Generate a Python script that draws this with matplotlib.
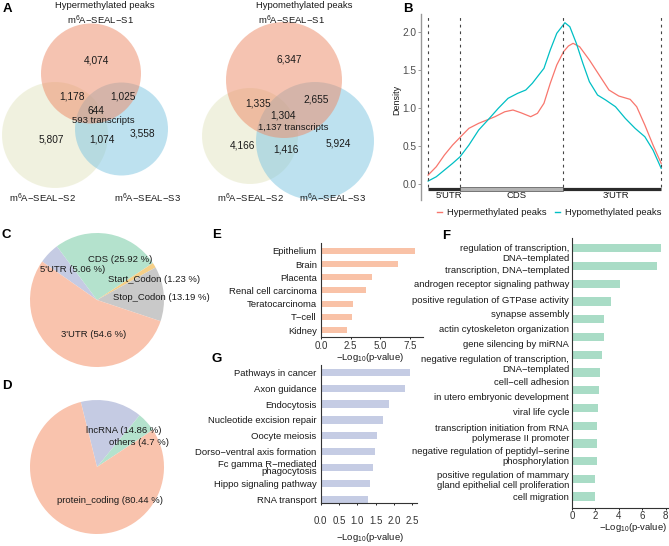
import matplotlib
matplotlib.use("Agg")
import matplotlib.pyplot as plt
from matplotlib.patches import Circle, Rectangle
from matplotlib.lines import Line2D

plt.rcParams["font.family"] = ["Liberation Sans", "DejaVu Sans"]
plt.rcParams["mathtext.fontset"] = "custom"
plt.rcParams["mathtext.rm"] = "Liberation Sans"
plt.rcParams["mathtext.it"] = "Liberation Sans:italic"
plt.rcParams["mathtext.bf"] = "Liberation Sans:bold"

M = "\u2212"

# --------------------------------------------------------------------
# Data
# --------------------------------------------------------------------
# A: venn counts, order = S1 only, S1&S2, S1&S3, all three, S2 only, S2&S3, S3 only
set_names = ["m$^6$A" + M + "SEAL" + M + "S1",
             "m$^6$A" + M + "SEAL" + M + "S2",
             "m$^6$A" + M + "SEAL" + M + "S3"]
hyper_counts = [4074, 1178, 1025, 644, 5807, 1074, 3558]
hyper_transcripts = 593
hypo_counts = [6347, 1335, 2655, 1304, 4166, 1416, 5924]
hypo_transcripts = 1137

# B: metagene density (relative position along transcript 0..1)
hyper_x = [0.000, 0.035, 0.070, 0.105, 0.137, 0.175, 0.217, 0.259, 0.287, 0.329,
           0.364, 0.398, 0.440, 0.469, 0.497, 0.524, 0.552, 0.581, 0.602, 0.622,
           0.650, 0.692, 0.734, 0.776, 0.818, 0.867, 0.895, 0.930, 0.965, 1.000]
hyper_y = [0.118, 0.228, 0.382, 0.513, 0.614, 0.733, 0.799, 0.851, 0.886, 0.951,
           0.974, 0.938, 0.886, 0.930, 1.062, 1.325, 1.566, 1.741, 1.816, 1.851,
           1.807, 1.632, 1.434, 1.237, 1.158, 1.114, 1.017, 0.776, 0.513, 0.272]
hypo_x = [0.000, 0.035, 0.070, 0.105, 0.137, 0.175, 0.217, 0.259, 0.301, 0.343,
          0.384, 0.419, 0.447, 0.469, 0.497, 0.524, 0.552, 0.587, 0.608, 0.636,
          0.664, 0.692, 0.727, 0.762, 0.804, 0.846, 0.888, 0.930, 0.965, 1.000]
hypo_y = [0.039, 0.096, 0.184, 0.272, 0.359, 0.513, 0.711, 0.851, 0.996, 1.128,
          1.193, 1.237, 1.325, 1.412, 1.522, 1.763, 1.983, 2.122, 2.070, 1.851,
          1.588, 1.346, 1.171, 1.105, 1.017, 0.864, 0.733, 0.622, 0.447, 0.207]
region_bounds = [0.0, 0.137, 0.578, 1.0]
region_names = ["5'UTR", "CDS", "3'UTR"]

# C: peak distribution on transcript features
feature_names = ["5'UTR", "CDS", "Start_Codon", "Stop_Codon", "3'UTR"]
feature_pct = [5.06, 25.92, 1.23, 13.19, 54.6]

# D: RNA types
rna_names = ["lncRNA", "others", "protein_coding"]
rna_pct = [14.86, 4.7, 80.44]

# E: tissue enrichment
tissue_names = ["Epithelium", "Brain", "Placenta", "Renal cell carcinoma",
                "Teratocarcinoma", "T" + M + "cell", "Kidney"]
tissue_logp = [7.9, 6.5, 4.3, 3.8, 2.7, 2.6, 2.2]

# F: GO terms
go_terms = ["regulation of transcription,\nDNA" + M + "templated",
            "transcription, DNA" + M + "templated",
            "androgen receptor signaling pathway",
            "positive regulation of GTPase activity",
            "synapse assembly",
            "actin cytoskeleton organization",
            "gene silencing by miRNA",
            "negative regulation of transcription,\nDNA" + M + "templated",
            "cell" + M + "cell adhesion",
            "in utero embryonic development",
            "viral life cycle",
            "transcription initiation from RNA\npolymerase II promoter",
            "negative regulation of peptidyl" + M + "serine\nphosphorylation",
            "positive regulation of mammary\ngland epithelial cell proliferation",
            "cell migration"]
go_logp = [7.58, 7.24, 4.1, 3.3, 2.76, 2.74, 2.54, 2.42, 2.28, 2.22,
           2.17, 2.11, 2.11, 2.0, 1.94]

# G: KEGG pathways
kegg_terms = ["Pathways in cancer", "Axon guidance", "Endocytosis",
              "Nucleotide excision repair", "Oocyte meiosis",
              "Dorso" + M + "ventral axis formation",
              "Fc gamma R" + M + "mediated\nphagocytosis",
              "Hippo signaling pathway", "RNA transport"]
kegg_logp = [2.45, 2.30, 1.87, 1.71, 1.53, 1.47, 1.42, 1.36, 1.29]

# --------------------------------------------------------------------
# Layout helpers (pixel coordinates, origin top-left)
# --------------------------------------------------------------------
W, H = 669, 546
fig = plt.figure(figsize=(W / 100, H / 100), dpi=100)
TXT = "#1a1a1a"
FS = 6.8


def px_axes(l, t, r, b):
    return fig.add_axes([l / W, 1 - b / H, (r - l) / W, (b - t) / H])


def px_text(x, y, s, **kw):
    kw.setdefault("color", TXT)
    fig.text(x / W, 1 - y / H, s, **kw)


def panel(x, y, s):
    px_text(x, y, s, fontsize=9.5, fontweight="bold", ha="left", va="top", color="black")


# --------------------------------------------------------------------
# A - venn diagrams
# --------------------------------------------------------------------
axA = px_axes(0, 0, 380, 210)
axA.set_xlim(0, 380)
axA.set_ylim(210, 0)
axA.axis("off")

venn_cols = ["#ed8965", "#e3e5c1", "#7dc5e1"]


def venn(circles, counts, n_tr, cpos, tpos, title, title_pos, name_pos):
    # draw S2, S3 then S1 on top
    for i in (1, 2, 0):
        (cx, cy), r = circles[i]
        axA.add_patch(Circle((cx, cy), r, fc=venn_cols[i], ec="none", alpha=0.5))
    for n, (x, y) in zip(counts, cpos):
        axA.text(x, y, f"{n:,}", ha="center", va="center", fontsize=7.3, color=TXT)
    axA.text(tpos[0], tpos[1], f"{n_tr:,} transcripts", ha="center", va="center",
             fontsize=FS, color=TXT)
    axA.text(title_pos[0], title_pos[1], title, ha="center", va="center",
             fontsize=FS, color=TXT)
    for s, (x, y) in zip(set_names, name_pos):
        axA.text(x, y, s, ha="center", va="center", fontsize=FS, color=TXT)


venn([((91, 73.5), 50), ((55, 135), 53), ((121.5, 129), 46.5)],
     hyper_counts, hyper_transcripts,
     [(97, 60.5), (72.5, 96.5), (123, 96.5), (95.5, 110.5), (51.5, 140), (101.5, 140), (142.5, 134)],
     (103, 120.5), "Hypermethylated peaks", (105, 6),
     [(100, 20), (42, 198), (147.5, 198)])

venn([((284, 80), 58), ((250, 136), 48), ((315, 141), 59)],
     hypo_counts, hypo_transcripts,
     [(289, 60), (258, 104), (316.5, 100), (283, 115), (243, 145), (285.5, 150), (338, 143.5)],
     (293, 127), "Hypomethylated peaks", (304, 6),
     [(291, 20), (250.5, 198), (332, 198)])

panel(3, 3, "A")

# --------------------------------------------------------------------
# B - metagene density
# --------------------------------------------------------------------
axB = px_axes(421, 14, 669, 200)
axB.plot(hyper_x, hyper_y, color="#F8766D", lw=0.9, solid_joinstyle="round")
axB.plot(hypo_x, hypo_y, color="#00BFC4", lw=0.9, solid_joinstyle="round")
axB.vlines(region_bounds, -0.04, 2.22, colors="#444444", linestyles=(0, (2.5, 3.5)), lw=0.8)

bar_y = -0.066
axB.plot(region_bounds[0:2], [bar_y, bar_y], color="#2b2b2b", lw=2.3, solid_capstyle="butt")
axB.add_patch(Rectangle((region_bounds[1], bar_y - 0.026), region_bounds[2] - region_bounds[1],
                        0.052, fc="#b3b3b3", ec="#666666", lw=0.6))
axB.plot(region_bounds[2:4], [bar_y, bar_y], color="#2b2b2b", lw=2.3, solid_capstyle="butt")
for name, x in zip(region_names, [0.091, 0.378, 0.804]):
    axB.text(x, -0.145, name, ha="center", va="center", fontsize=FS, color=TXT)

axB.set_xlim(-0.0306, 1.0336)
axB.set_ylim(-0.21, 2.237)
axB.set_xticks([])
axB.set_yticks([0, 0.5, 1.0, 1.5, 2.0])
axB.set_yticklabels(["0.0", "0.5", "1.0", "1.5", "2.0"])
axB.tick_params(axis="y", labelsize=7.3, labelcolor="#4d4d4d", length=2, width=0.6,
                color="#888888", pad=1.2)
for s in ["top", "right", "bottom"]:
    axB.spines[s].set_visible(False)
axB.spines["left"].set_color("#999999")
axB.spines["left"].set_linewidth(1.0)
axB.patch.set_alpha(0)
px_text(397, 100, "Density", rotation=90, ha="center", va="center", fontsize=6.5)

fig.legend(handles=[Line2D([], [], color="#F8766D", lw=1), Line2D([], [], color="#00BFC4", lw=1)],
           labels=["Hypermethylated peaks", "Hypomethylated peaks"],
           loc="center", bbox_to_anchor=(549 / W, 1 - 213 / H), ncol=2, frameon=False,
           fontsize=FS, handlelength=0.6, handletextpad=0.45, columnspacing=0.9,
           borderpad=0, labelcolor=TXT)
panel(403, 3, "B")

# --------------------------------------------------------------------
# C / D - pies
# --------------------------------------------------------------------
axC = px_axes(30, 233, 164, 367)
axC.pie(feature_pct, colors=["#c5cbe3", "#b4e2cd", "#f5cf87", "#c9c9c9", "#f9c3ad"],
        startangle=145, counterclock=False, radius=1)
axC.set_xlim(-1, 1)
axC.set_ylim(-1, 1)
for name, p, (x, y) in zip(feature_names, feature_pct,
                           [(-0.36, 0.45), (0.34, 0.60), (0.85, 0.31), (0.96, 0.04), (-0.05, -0.52)]):
    axC.text(x, y, f"{name} ({p} %)", ha="center", va="center", fontsize=FS, color=TXT)
panel(2, 229, "C")

axD = px_axes(30, 400, 164, 534)
axD.pie(rna_pct, colors=["#c5cbe3", "#b4e2cd", "#f9c3ad"],
        startangle=104, counterclock=False, radius=1)
axD.set_xlim(-1, 1)
axD.set_ylim(-1, 1)
for name, p, (x, y) in zip(rna_names, rna_pct, [(0.40, 0.54), (0.63, 0.37), (0.19, -0.50)]):
    axD.text(x, y, f"{name} ({p} %)", ha="center", va="center", fontsize=FS, color=TXT)
panel(2, 380, "D")


# --------------------------------------------------------------------
# E / F / G - enrichment bars
# --------------------------------------------------------------------
def style_bars(ax, pad):
    for s in ["top", "right"]:
        ax.spines[s].set_visible(False)
    for s in ["left", "bottom"]:
        ax.spines[s].set_color("#333333")
        ax.spines[s].set_linewidth(0.8)
    ax.tick_params(axis="y", length=0, pad=3, labelsize=FS, labelcolor=TXT)
    ax.tick_params(axis="x", length=1.5, width=0.6, pad=pad, labelsize=7.0, labelcolor="#333333")
    ax.patch.set_alpha(0)


xlab = M + "Log$_{10}$(p" + "-value)"

axE = px_axes(321, 243, 423, 337)
axE.barh(range(len(tissue_names)), tissue_logp, height=0.45, color="#f9c2a7")
axE.set_yticks(range(len(tissue_names)))
axE.set_yticklabels(tissue_names)
axE.set_ylim(6.53, -0.6)
axE.set_xlim(0, 8.6)
axE.set_xticks([0, 2.5, 5, 7.5])
axE.set_xticklabels(["0.0", "2.5", "5.0", "7.5"])
style_bars(axE, 1.5)
px_text(370, 357, xlab, ha="center", va="center", fontsize=FS)
panel(212, 229, "E")

axF = px_axes(572, 238, 668, 508)
axF.barh(range(len(go_terms)), go_logp, height=0.47, color="#a9dcc6")
# label rows in the original drift away from their bars
go_label_pos = [0.19, 1.17, 2.01, 2.86, 3.70, 4.51, 5.39, 6.48, 7.52, 8.36,
                9.21, 10.37, 11.67, 12.99, 14.0]
axF.set_yticks(go_label_pos)
axF.set_yticklabels(go_terms)
for t in axF.get_yticklabels():
    t.set_linespacing(1.15)
axF.set_ylim(14.64, -0.58)
axF.set_xlim(0, 8.2)
axF.set_xticks([0, 2, 4, 6, 8])
style_bars(axF, 0.8)
axF.tick_params(axis="y", pad=2)
px_text(633, 527, xlab, ha="center", va="center", fontsize=FS)
panel(442, 230, "F")

axG = px_axes(320.7, 365, 417, 503)
axG.barh(range(len(kegg_terms)), kegg_logp, height=0.46, color="#c5cce4")
axG.set_yticks(range(len(kegg_terms)))
axG.set_yticklabels(kegg_terms)
for t in axG.get_yticklabels():
    t.set_linespacing(0.8)
axG.set_ylim(8.23, -0.46)
axG.set_xlim(0, 2.63)
axG.set_xticks([0, 0.5, 1.0, 1.5, 2.0, 2.5])
axG.set_xticklabels(["0.0", "0.5", "1.0", "1.5", "2.0", "2.5"])
style_bars(axG, 8.0)
px_text(370, 537, xlab, ha="center", va="center", fontsize=FS)
panel(212, 353, "G")

fig.savefig("out.png", dpi=100)
